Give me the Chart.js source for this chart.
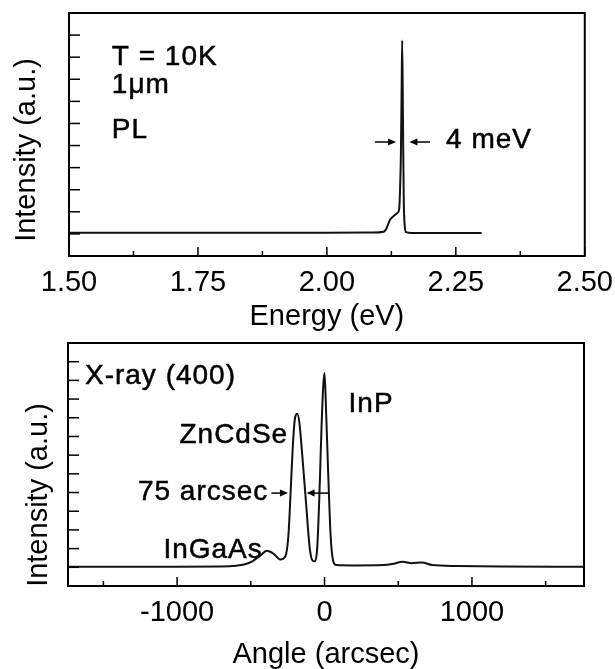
<!DOCTYPE html>
<html>
<head>
<meta charset="utf-8">
<script src="https://cdn.jsdelivr.net/npm/chart.js@4.4.1/dist/chart.umd.min.js"></script>
<style>
  html, body { margin: 0; padding: 0; background: #fff; overflow: hidden; }
  canvas { position: absolute; left: 0; }
</style>
</head>
<body>
<canvas id="plChart" width="615" height="335" style="top:0"></canvas>
<canvas id="xrdChart" width="615" height="337" style="top:335px"></canvas>
<script>
// PL spectrum (top panel)
const plEnergy = [1.50, 1.80, 2.00, 2.09, 2.110, 2.115, 2.119, 2.123, 2.128, 2.133, 2.138, 2.1405, 2.1420, 2.1435, 2.1450, 2.1460, 2.1475, 2.1490, 2.1510, 2.1535, 2.165, 2.30];
const plIntensity = [0.05, 0.05, 0.05, 0.06, 0.10, 0.22, 0.45, 0.66, 0.78, 0.88, 0.98, 1.20, 2.15, 3.60, 6.80, 8.75, 5.20, 1.60, 0.35, 0.08, 0.04, 0.04];
const plMajorTicks = [1.50, 1.75, 2.00, 2.25, 2.50];
const plMinorTicks = [1.625, 1.875, 2.125, 2.375];
const plYTicks = [0, 1, 2, 3, 4, 5, 6, 7, 8, 9];

// X-ray rocking curve (bottom panel)
const xrdAngle = [-1740, -1000, -700, -600, -540, -490, -440, -390, -345, -300, -265, -245, -230, -215, -200, -185, -170, -150, -125, -100, -80, -65, -50, -35, -20, -8, 0, 10, 25, 42, 60, 80, 200, 400, 460, 530, 590, 660, 730, 900, 1200, 1760];
const xrdIntensity = [0.03, 0.03, 0.04, 0.08, 0.16, 0.32, 0.60, 0.88, 0.72, 0.42, 0.60, 1.7, 4.0, 6.5, 8.0, 8.22, 7.7, 5.9, 3.4, 1.0, 0.35, 0.32, 1.0, 3.8, 7.6, 9.8, 10.4, 8.5, 5.0, 1.6, 0.3, 0.12, 0.10, 0.12, 0.18, 0.30, 0.22, 0.26, 0.12, 0.07, 0.04, 0.03];
const xrdMajorTicks = [-1000, 0, 1000];
const xrdMinorTicks = [-1500, -500, 500, 1500];
const xrdYTicks = [0, 1, 2, 3, 4, 5, 6, 7, 8, 9, 10, 11];

const FONT = "'Liberation Sans', Arial, Helvetica, sans-serif";
Chart.defaults.font.family = FONT;
Chart.defaults.color = '#000';

// frame, inward ticks, labels and arrows
const figureMarks = {
  id: 'figureMarks',
  afterDraw(chart, args, opts) {
    const { ctx, chartArea: a, scales: { x, y } } = chart;
    const line = (x1, y1, x2, y2) => { ctx.beginPath(); ctx.moveTo(x1, y1); ctx.lineTo(x2, y2); ctx.stroke(); };
    ctx.save();
    ctx.strokeStyle = '#000';
    ctx.fillStyle = '#000';
    ctx.lineWidth = 2;
    ctx.strokeRect(a.left, a.top, a.right - a.left, a.bottom - a.top);

    ctx.lineWidth = 1.5;
    x.ticks.forEach(t => { const p = x.getPixelForValue(t.value); line(p, a.bottom, p, a.bottom - 9); });
    opts.minor.forEach(v => { const p = x.getPixelForValue(v); line(p, a.bottom, p, a.bottom - 5); });
    y.ticks.forEach(t => { const p = y.getPixelForValue(t.value); line(a.left, p, a.left + 11, p); });

    ctx.font = '28px ' + FONT;
    ctx.letterSpacing = '1px';
    ctx.textAlign = 'left';
    ctx.textBaseline = 'alphabetic';
    ctx.lineWidth = 0.5;
    opts.labels.forEach(l => {
      const px = x.getPixelForValue(l.x), py = y.getPixelForValue(l.y);
      ctx.fillText(l.text, px, py);
      ctx.strokeText(l.text, px, py);
    });
    ctx.letterSpacing = '0px';

    ctx.lineWidth = 1.5;
    opts.arrows.forEach(ar => {
      const x1 = x.getPixelForValue(ar.from), x2 = x.getPixelForValue(ar.to), py = y.getPixelForValue(ar.y);
      const dir = Math.sign(x2 - x1);
      line(x1, py, x2 - dir * 6, py);
      ctx.beginPath();
      ctx.moveTo(x2, py);
      ctx.lineTo(x2 - dir * 8, py - 3.5);
      ctx.lineTo(x2 - dir * 8, py + 3.5);
      ctx.closePath();
      ctx.fill();
    });

    ctx.font = '29px ' + FONT;
    ctx.translate(opts.yTitle.x, opts.yTitle.y);
    ctx.rotate(-Math.PI / 2);
    ctx.textAlign = 'center';
    ctx.textBaseline = 'middle';
    ctx.fillText('Intensity (a.u.)', 0, 0);
    ctx.restore();
  }
};

function makePanel(id, cfg) {
  return new Chart(document.getElementById(id), {
    type: 'line',
    data: {
      datasets: [{
        data: cfg.xs.map((v, i) => ({ x: v, y: cfg.ys[i] })),
        borderColor: '#111',
        borderWidth: 2,
        pointRadius: 0,
        cubicInterpolationMode: 'monotone'
      }]
    },
    options: {
      responsive: false,
      animation: false,
      devicePixelRatio: 1,
      layout: { padding: cfg.padding },
      plugins: {
        legend: { display: false },
        tooltip: { enabled: false },
        figureMarks: { minor: cfg.minor, labels: cfg.labels, arrows: cfg.arrows, yTitle: cfg.yTitle }
      },
      scales: {
        x: {
          type: 'linear',
          min: cfg.xMin,
          max: cfg.xMax,
          afterBuildTicks: s => { s.ticks = cfg.major.map(v => ({ value: v })); },
          afterFit: s => { s.height = cfg.xHeight; },
          grid: { display: false },
          border: { display: false },
          ticks: {
            font: { size: 29 },
            color: '#000',
            padding: cfg.tickPad,
            maxRotation: 0,
            callback: cfg.fmt
          },
          title: { display: true, text: cfg.xTitle, font: { size: 29 }, color: '#000', padding: { top: 0, bottom: cfg.titlePad } }
        },
        y: {
          min: cfg.yMin,
          max: cfg.yMax,
          afterBuildTicks: s => { s.ticks = cfg.yTicks.map(v => ({ value: v })); },
          afterFit: s => { s.width = cfg.yWidth; },
          grid: { display: false },
          border: { display: false },
          ticks: { display: false }
        }
      }
    },
    plugins: [figureMarks]
  });
}

makePanel('plChart', {
  xs: plEnergy, ys: plIntensity,
  xMin: 1.5, xMax: 2.5, yMin: -1, yMax: 10,
  major: plMajorTicks, minor: plMinorTicks, yTicks: plYTicks,
  fmt: v => v.toFixed(2),
  xTitle: 'Energy (eV)',
  padding: { top: 13, right: 30, left: 0, bottom: 0 },
  yWidth: 69, xHeight: 79, tickPad: 2, titlePad: 1,
  yTitle: { x: 27, y: 150 },
  labels: [
    { text: 'T = 10K', x: 1.583, y: 7.64 },
    { text: '1\u03bcm', x: 1.583, y: 6.37 },
    { text: 'PL', x: 1.583, y: 4.34 },
    { text: '4 meV', x: 2.231, y: 3.89 }
  ],
  arrows: [
    { from: 2.093, to: 2.134, y: 4.16 },
    { from: 2.200, to: 2.160, y: 4.16 }
  ]
});

makePanel('xrdChart', {
  xs: xrdAngle, ys: xrdIntensity,
  xMin: -1740, xMax: 1760, yMin: -1, yMax: 12,
  major: xrdMajorTicks, minor: xrdMinorTicks, yTicks: xrdYTicks,
  fmt: v => String(v),
  xTitle: 'Angle (arcsec)',
  padding: { top: 8, right: 31, left: 0, bottom: 0 },
  yWidth: 68, xHeight: 86, tickPad: 2, titlePad: 0,
  yTitle: { x: 39, y: 160 },
  labels: [
    { text: 'X-ray (400)', x: -1625, y: 9.79 },
    { text: 'InP', x: 163, y: 8.31 },
    { text: 'ZnCdSe', x: -984, y: 6.64 },
    { text: '75 arcsec', x: -1266, y: 3.59 },
    { text: 'InGaAs', x: -1093, y: 0.5 }
  ],
  arrows: [
    { from: -360, to: -248, y: 3.97 },
    { from: 27, to: -122, y: 3.97 }
  ]
});
</script>
</body>
</html>
